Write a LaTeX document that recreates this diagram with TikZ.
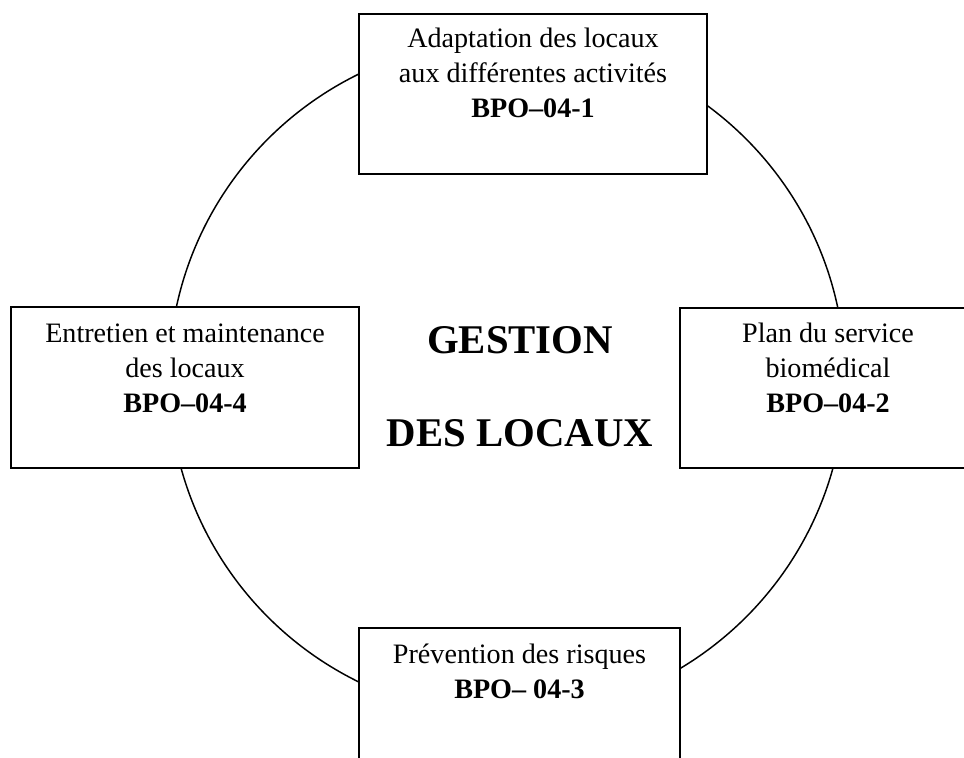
\documentclass[tikz,border=0pt]{standalone}
\usepackage{fontspec}
\setmainfont{Liberation Serif}
\usetikzlibrary{positioning}

\begin{document}
\begin{tikzpicture}[x=0.025cm, y=-0.025cm,
  box/.style={draw, line width=1.4pt, fill=white, inner sep=0pt, anchor=north west},
  txt/.style={font=\fontsize{20}{24.8}\selectfont, align=center, inner sep=0pt},
  ttl/.style={font=\fontsize{29}{66}\selectfont\bfseries, align=center, inner sep=0pt, anchor=north},
]
  \useasboundingbox (0,0) rectangle (964,757);
  \clip (0,0) rectangle (964,757);

  % Ring behind the boxes
  \node[circle, draw, line width=1.05pt, minimum size=16.9cm, inner sep=0pt] (ring) at (507,378) {};

  % Boxes
  \node[box, minimum width=8.7cm, minimum height=4cm] (adapt) at (358,13) {};
  \node[box, minimum width=8.7cm, minimum height=4.025cm] (entret) at (10,306) {};
  \node[box, minimum width=7.4cm, minimum height=4cm] (plan) at (679,307) {};
  \node[box, minimum width=8.025cm, minimum height=4cm] (prev) at (358,627) {};

  % Box texts
  \node[txt, below=0.375cm of adapt.north] (adapttxt)
    {Adaptation des locaux\\aux différentes activités\\\textbf{BPO–04-1}};
  \node[txt, below=0.45cm of entret.north] (entrettxt)
    {Entretien et maintenance\\des locaux\\\textbf{BPO–04-4}};
  \node[txt, below=0.4cm of plan.north] (plantxt)
    {Plan du service\\biomédical\\\textbf{BPO–04-2}};
  \node[txt, below=0.425cm of prev.north] (prevtxt)
    {Prévention des risques\\\textbf{BPO– 04-3}};

  % Title
  \node[ttl] (title) at (520,326) {GESTION\\DES LOCAUX};
\end{tikzpicture}
\end{document}
